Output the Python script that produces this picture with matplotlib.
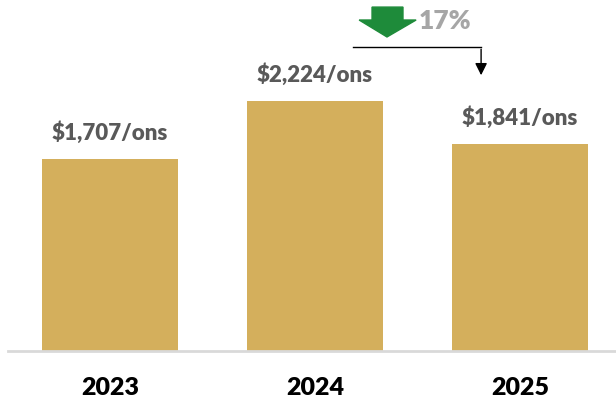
import numpy as np
import matplotlib
matplotlib.use('Agg')
import matplotlib.pyplot as plt
from matplotlib.patches import Polygon

plt.rcParams['font.family'] = ['Lato', 'DejaVu Sans']

years = ['2023', '2024', '2025']
prices = [1707, 2224, 1841]
labels = ['$1,707/ons', '$2,224/ons', '$1,841/ons']

pct_drop = (prices[1] - prices[2]) / prices[1] * 100

fig = plt.figure(figsize=(6.16, 4.03), dpi=100)
ax = fig.add_axes([8/616, 52/403, 608/616, 351/403])

x = np.arange(len(years))
ax.bar(x, prices, width=0.663, color='#D4AF5C', zorder=2)

for xi, p, lab in zip(x, prices, labels):
    ax.annotate(lab, (xi, p), xytext=(0, 19), textcoords='offset points',
                ha='center', va='center', fontsize=16, fontweight='heavy', color='#595959')

ax.set_xlim(-0.4976, 2.468)
ax.set_ylim(0, 3123)
ax.set_xticks(x)
ax.set_xticklabels(years, fontsize=18, fontweight='heavy', color='black')
ax.tick_params(axis='x', length=0, pad=19)
ax.set_yticks([])
for s in ['top', 'right', 'left']:
    ax.spines[s].set_visible(False)
ax.spines['bottom'].set_color('#D9D9D9')
ax.spines['bottom'].set_linewidth(2)

# change annotation: elbow line from 2024 to 2025
ax.plot([1.185, 1.81], [2705, 2705], color='black', lw=1, clip_on=False)
ax.annotate('', xy=(1.81, 2429), xytext=(1.81, 2710),
            arrowprops=dict(arrowstyle='-|>', color='black', lw=1, mutation_scale=18),
            annotation_clip=False)

# green down arrow
arrow_pts = [(1.278, 3060), (1.429, 3060), (1.429, 2945), (1.493, 2945),
             (1.351, 2794), (1.215, 2945), (1.278, 2945)]
ax.add_patch(Polygon(arrow_pts, closed=True, color='#1E8B3A', clip_on=False))
ax.text(1.505, 2935, f'{pct_drop:.0f}%', ha='left', va='center',
        fontsize=19, fontweight='heavy', color='#A6A6A6')

fig.savefig('out.png', dpi=100)
